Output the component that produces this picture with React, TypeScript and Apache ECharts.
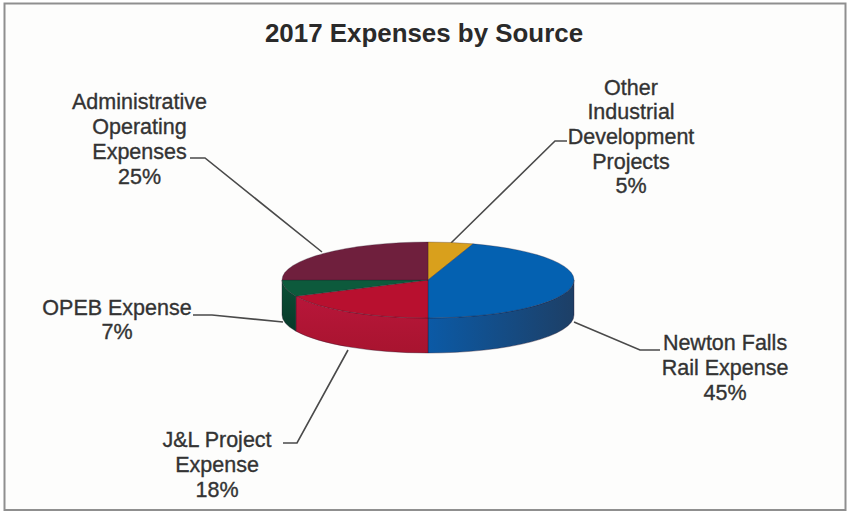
import React, { useEffect, useRef } from "react";
import * as echarts from "echarts";

const titleText = "2017 Expenses by Source";
const categories = [
  "Other\nIndustrial\nDevelopment\nProjects",
  "Newton Falls\nRail Expense",
  "J&L Project\nExpense",
  "OPEB Expense",
  "Administrative\nOperating\nExpenses",
];
const values = [5, 45, 18, 7, 25];

const topColors = ["#d9a01c", "#0461b1", "#b8102f", "#0d5a3c", "#6f1f3d"];
const sideFrom = ["#b8860f", "#0b5aa6", "#b8163a", "#0a5036", "#5a1830"];
const sideTo = ["#b8860f", "#1d3f66", "#a8142f", "#08392a", "#5a1830"];

const CX = 428;
const CY = 280;
const RX = 146;
const RY = 38;
const DEPTH = 35;

const labelCenters = [
  [631, 137],
  [725, 368],
  [217, 465],
  [117, 320],
  [139.5, 139.5],
];
const leaders = [
  [[567, 141], [555, 141], [451, 243]],
  [[574, 322], [640, 350], [660, 350]],
  [[348, 350], [297, 443], [283, 443]],
  [[193, 315], [212, 315], [283, 322]],
  [[190, 158], [205, 158], [322, 252]],
];

const total = values.reduce((a, b) => a + b, 0);
const pt = (deg: number, dy = 0): [number, number] => {
  const r = (deg * Math.PI) / 180;
  return [CX + RX * Math.sin(r), CY - RY * Math.cos(r) + dy];
};

function renderSlice(params: any, api: any) {
  const i = params.dataIndex;
  const v = api.value(0);
  let before = 0;
  for (let k = 0; k < i; k++) before += values[k];
  const a0 = (before / total) * 360;
  const a1 = ((before + v) / total) * 360;
  const children: any[] = [];

  const s0 = Math.max(a0, 90);
  const s1 = Math.min(a1, 270);
  if (s1 > s0) {
    const p0 = pt(s0);
    const p1 = pt(s1);
    const q1 = pt(s1, DEPTH);
    const q0 = pt(s0, DEPTH);
    const large = s1 - s0 > 180 ? 1 : 0;
    children.push({
      type: "path",
      shape: {
        pathData: `M${p0[0]} ${p0[1]} A${RX} ${RY} 0 ${large} 1 ${p1[0]} ${p1[1]} L${q1[0]} ${q1[1]} A${RX} ${RY} 0 ${large} 0 ${q0[0]} ${q0[1]} Z`,
      },
      style: {
        fill: {
          type: "linear",
          x: 0,
          y: 0,
          x2: i === 1 ? 1 : 0,
          y2: i === 1 ? 0 : 1,
          colorStops: [
            { offset: 0, color: sideFrom[i] },
            { offset: 1, color: sideTo[i] },
          ],
        },
        stroke: "rgba(40,20,40,0.45)",
        lineWidth: 0.8,
      },
    });
  }

  const p0 = pt(a0);
  const p1 = pt(a1);
  const large = a1 - a0 > 180 ? 1 : 0;
  children.push({
    type: "path",
    shape: {
      pathData: `M${CX} ${CY} L${p0[0]} ${p0[1]} A${RX} ${RY} 0 ${large} 1 ${p1[0]} ${p1[1]} Z`,
    },
    style: { fill: topColors[i], stroke: "rgba(40,20,40,0.4)", lineWidth: 0.7 },
  });
  return { type: "group", children };
}

export default function App() {
  const ref = useRef<HTMLDivElement>(null);
  useEffect(() => {
    const chart = echarts.init(ref.current!, undefined, { renderer: "svg" });
    const labelFont = '"Liberation Sans", Arial, sans-serif';
    const elements: any[] = [
      {
        type: "rect",
        z: -1,
        shape: { x: 4.5, y: 3.5, width: 841, height: 506.5 },
        style: { fill: "#fdfdfc", stroke: "#8f8f8f", lineWidth: 2 },
      },
    ];
    leaders.forEach((points) => {
      elements.push({
        type: "polyline",
        shape: { points },
        style: { fill: "none", stroke: "#4a4a4a", lineWidth: 1.6 },
      });
    });
    categories.forEach((name, i) => {
      elements.push({
        type: "text",
        x: labelCenters[i][0],
        y: labelCenters[i][1],
        style: {
          text: `${name}\n${values[i]}%`,
          font: `21.5px ${labelFont}`,
          fill: "#333333",
          stroke: "#333333",
          lineWidth: 0.35,
          align: "center",
          verticalAlign: "middle",
          lineHeight: 24.7,
        },
      });
    });
    elements.push({
      type: "text",
      x: 424,
      y: 33,
      style: {
        text: titleText,
        font: `bold 25.9px ${labelFont}`,
        fill: "#2a2a2a",
        align: "center",
        verticalAlign: "middle",
      },
    });
    chart.setOption({
      animation: false,
      backgroundColor: "#ffffff",
      graphic: { elements },
      series: [
        {
          type: "custom",
          coordinateSystem: "none",
          silent: true,
          data: values.map((v, i) => ({ name: categories[i], value: [v] })),
          renderItem: renderSlice,
        },
      ],
    });
    return () => chart.dispose();
  }, []);
  return (
    <div
      ref={ref}
      style={{ position: "fixed", left: 0, top: 0, width: 850, height: 513 }}
    />
  );
}
